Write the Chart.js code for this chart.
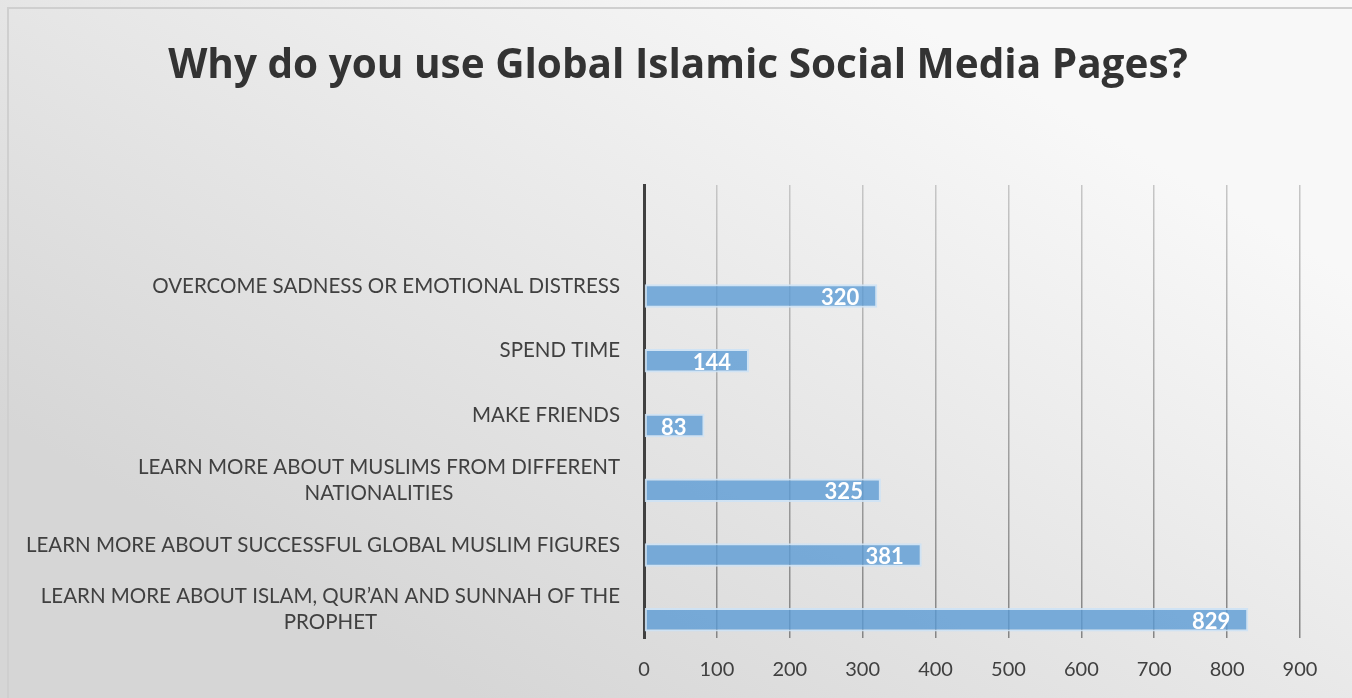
<!DOCTYPE html>
<html>
<head>
<meta charset="utf-8">
<title>Why do you use Global Islamic Social Media Pages?</title>
<script src="https://cdn.jsdelivr.net/npm/chart.js@4.4.1/dist/chart.umd.min.js"></script>
<style>
    html, body { margin: 0; padding: 0; background: #fff; }
    #wrap { width: 1352px; height: 698px; }
</style>
</head>
<body>
<div id="wrap"><canvas id="chart" width="1352" height="698"></canvas></div>
<script>
const chartTitle = 'Why do you use Global Islamic Social Media Pages?';

// top to bottom, as in the picture; wrapped lines kept as drawn
const categories = [
    ['OVERCOME SADNESS OR EMOTIONAL DISTRESS'],
    ['SPEND TIME'],
    ['MAKE FRIENDS'],
    ['LEARN MORE ABOUT MUSLIMS FROM DIFFERENT', 'NATIONALITIES'],
    ['LEARN MORE ABOUT SUCCESSFUL GLOBAL MUSLIM FIGURES'],
    ['LEARN MORE ABOUT ISLAM, QUR\u2019AN AND SUNNAH OF THE', 'PROPHET']
];
const responses = [320, 144, 83, 325, 381, 829];
const xMin  = 0,
      xMax  = 900,
      xStep = 100;

const textColor = '#404040';

// the sheet has one blank category row above the first answer
const labels = [''].concat(categories.map(c => c.join(' ')));

const backgroundPlugin = {
    id: 'background',
    beforeDraw(chart) {
        const {ctx, width, height} = chart;
        ctx.save();
        let g = ctx.createLinearGradient(width * 0.65, 0, width * 0.35, height);
        g.addColorStop(0, '#f8f8f8');
        g.addColorStop(1, '#d6d6d6');
        ctx.fillStyle = g;
        ctx.fillRect(0, 0, width, height);
        ctx.strokeStyle = '#cfcfcf';
        ctx.lineWidth = 2;
        ctx.strokeRect(8, 8, width + 10, height + 10);

        // title, centred on the whole frame
        ctx.font = 'bold 40.5px "Open Sans"';
        ctx.fillStyle = '#333333';
        ctx.textAlign = 'center';
        ctx.textBaseline = 'alphabetic';
        ctx.fillText(chartTitle, 678, 78);
        ctx.restore();
    }
};

const categoryLabelPlugin = {
    id: 'categoryLabels',
    afterDraw(chart) {
        const {ctx} = chart,
              yScale = chart.scales.y,
              right  = chart.chartArea.left - 24,
              lineH  = 26;
        ctx.save();
        ctx.font = '20.5px Lato';
        ctx.fillStyle = textColor;
        ctx.textAlign = 'center';
        ctx.textBaseline = 'middle';
        categories.forEach((lines, i) => {
            let y = yScale.getPixelForValue(i + 1) + 4,
                w = Math.max(...lines.map(l => ctx.measureText(l).width));
            lines.forEach((line, j) => {
                ctx.fillText(line, right - w / 2, y + (j - (lines.length - 1) / 2) * lineH);
            });
        });
        ctx.restore();
    }
};

const valueLabelPlugin = {
    id: 'valueLabels',
    afterDatasetsDraw(chart) {
        const {ctx} = chart,
              meta = chart.getDatasetMeta(1);
        ctx.save();
        ctx.font = 'bold 22px Lato';
        ctx.fillStyle = '#ffffff';
        ctx.textAlign = 'right';
        ctx.textBaseline = 'middle';
        meta.data.forEach((bar, i) => {
            let v = chart.data.datasets[1].data[i];
            if (v == null) return;
            ctx.fillText(String(v), bar.x - 18, bar.y + 2);
        });
        ctx.restore();
    }
};

new Chart(document.getElementById('chart'), {
    type: 'bar',
    data: {
        labels: labels,
        datasets: [{
            // empty series: Excel keeps its slot, which pushes the bars down
            label: '',
            data: labels.map(() => null)
        }, {
            label: 'Responses',
            data: [null].concat(responses),
            backgroundColor: 'rgba(91, 155, 213, 0.8)',
            borderColor: 'rgba(205, 226, 245, 0.9)',
            borderWidth: 2,
            borderSkipped: false
        }]
    },
    options: {
        indexAxis: 'y',
        responsive: false,
        devicePixelRatio: 1,
        animation: false,
        categoryPercentage: 0.866,
        barPercentage: 0.84,
        layout: {
            padding: {left: 0, right: 52, top: 185, bottom: 16}
        },
        plugins: {
            legend: {display: false},
            tooltip: {enabled: false},
            title: {display: false}
        },
        scales: {
            x: {
                min: xMin,
                max: xMax,
                border: {display: false},
                grid: {
                    drawTicks: false,
                    lineWidth: 1.5,
                    color: ctx => {
                        const a = ctx.chart.chartArea;
                        if (!a) return '#aaaaaa';
                        let g = ctx.chart.ctx.createLinearGradient(0, a.top, 0, a.bottom);
                        g.addColorStop(0, '#c6c6c6');
                        g.addColorStop(1, '#858585');
                        return g;
                    }
                },
                ticks: {
                    stepSize: xStep,
                    padding: 20,
                    color: textColor,
                    font: {family: 'Lato', size: 20}
                },
                afterFit(scale) {
                    scale.height = 44;
                }
            },
            y: {
                grid: {display: false, drawTicks: false},
                border: {display: true, color: '#404040', width: 3},
                ticks: {display: false},
                afterFit(scale) {
                    scale.width = 644;
                }
            }
        }
    },
    plugins: [backgroundPlugin, categoryLabelPlugin, valueLabelPlugin]
});
</script>
</body>
</html>
